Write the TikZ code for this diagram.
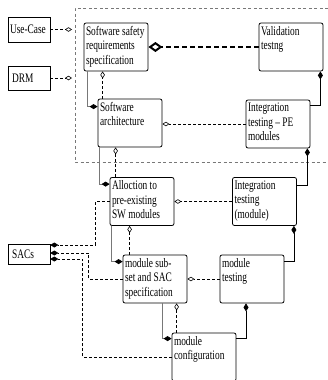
\documentclass[tikz,border=0pt]{standalone}
\usepackage{fontspec}
\setmainfont{Liberation Serif}[FakeStretch=0.72]
\usepackage{xcolor}
\usepackage{tikz}
\usetikzlibrary{arrows.meta,calc}
\definecolor{lineGrey}{RGB}{120,120,120}
\newcommand{\boxtext}[1]{\parbox[c][42pt][t]{60pt}{\raggedright #1}}

\begin{document}
\begin{tikzpicture}[
  x=1pt, y=-1pt,
  font=\fontsize{13}{14.5}\selectfont,
  stage/.style={draw, rounded corners=2pt, line width=0.8pt, inner xsep=2pt, inner ysep=3pt},
  src/.style={draw, line width=0.6pt, align=left, text width=38pt, inner xsep=2pt, inner ysep=0pt},
  bound/.style={lineGrey, line width=0.8pt, dash pattern=on 3pt off 2.5pt},
  agg/.style={-{Diamond[open, length=7pt, width=4.5pt]}, line width=0.6pt, dash pattern=on 3pt off 2pt},
  bigagg/.style={-{Diamond[open, length=14pt, width=10pt, line width=2pt]}, line width=1.8pt, dash pattern=on 5pt off 3pt},
  comp/.style={-{Diamond[length=8pt, width=5pt]}, line width=0.7pt},
  lcomp/.style={-{Diamond[length=8pt, width=5pt, color=black]}, line width=0.8pt, lineGrey},
  dcomp/.style={-{Diamond[length=8pt, width=5pt]}, line width=0.6pt, dash pattern=on 3pt off 2pt}
]
\useasboundingbox (0,0) rectangle (328,380);

\coordinate (bnw) at (75,8);
\coordinate (bsw) at (75,162);
\draw[bound] (328,8) -- (bnw) -- (bsw) -- (328,162);

\node[src, minimum height=25pt] (uc) at (29,29.5) {Use-Case};
\node[src, minimum height=24pt] (drm) at (29,78) {\,DRM};
\node[src, minimum height=20pt] (sacs) at (29,254) {\,SACs};

\node[stage] (ssr) at (116,47) {\boxtext{Software safety\\requirements\\specification}};
\node[stage] (val) at (291,47) {\boxtext{Validation\\testng}};
\node[stage] (sa) at (130,123) {\boxtext{Software\\architecture}};
\node[stage] (ipe) at (278,124) {\boxtext{Integration\\testing -- PE\\modules}};
\node[stage] (alloc) at (142,201.5) {\boxtext{Alloction to\\pre-existing\\SW modules}};
\node[stage] (imod) at (264.5,201.5) {\boxtext{Integration\\testing\\(module)}};
\node[stage] (msub) at (155,279) {\boxtext{module sub-\\set and SAC\\specification}};
\node[stage] (mtest) at (252,279) {\boxtext{module\\testing}};
\node[stage] (mconf) at (204,357) {\boxtext{module\\configuration}};

\draw[agg, shorten >=3pt] (uc.east) -- (uc.east -| bnw);
\draw[agg, shorten >=3pt] (drm.east) -- (drm.east -| bnw);
\draw[bigagg] (val.west) -- (ssr.east);

\draw[lcomp] ($(ssr.south west)+(4,0)$) |- ($(sa.north west)+(0,8)$);
\draw[agg] ($(sa.north west)+(5,0)$) coordinate (s1) -- (s1 |- ssr.south);
\draw[agg] (ipe.west) -- (ipe.west -| sa.east);
\draw[comp] ($(ipe.north east)+(0,6)$) -| ($(val.south east)+(-3,0)$);

\draw[lcomp] ($(sa.south west)+(2,0)$) |- ($(alloc.north west)+(0,7)$);
\draw[agg] ($(alloc.north west)+(6,0)$) coordinate (s2) -- (s2 |- sa.south);
\draw[agg] (imod.west) -- (imod.west -| alloc.east);
\draw[comp] ($(imod.north east)+(0,8)$) -| ($(ipe.south east)+(-3,0)$);

\draw[dcomp] (alloc.west) -| ($(sacs.east)+(45,-9)$) -- ($(sacs.east)+(0,-9)$);
\draw[dcomp] (msub.west) -| ($(sacs.east)+(38,-1)$) -- ($(sacs.east)+(0,-1)$);
\draw[dcomp] (mconf.west) -| ($(sacs.east)+(32,5)$) -- ($(sacs.east)+(0,5)$);

\draw[lcomp] ($(alloc.south west)+(2,0)$) |- ($(msub.north west)+(0,7)$);
\draw[agg] ($(msub.north west)+(7,0)$) coordinate (s3) -- (s3 |- alloc.south);
\draw[agg] (mtest.west) -- (mtest.west -| msub.east);
\draw[comp] ($(mtest.north east)+(0,7)$) -| ($(imod.south east)+(-3,0)$);

\draw[lcomp] ($(msub.south)+(7,0)$) |- ($(mconf.north west)+(0,6)$);
\draw[agg] ($(mconf.north west)+(5,0)$) coordinate (s4) -- (s4 |- msub.south);
\draw[comp] ($(mconf.north east)+(0,6)$) -| ($(mtest.south)+(-6,0)$);

\end{tikzpicture}
\end{document}
